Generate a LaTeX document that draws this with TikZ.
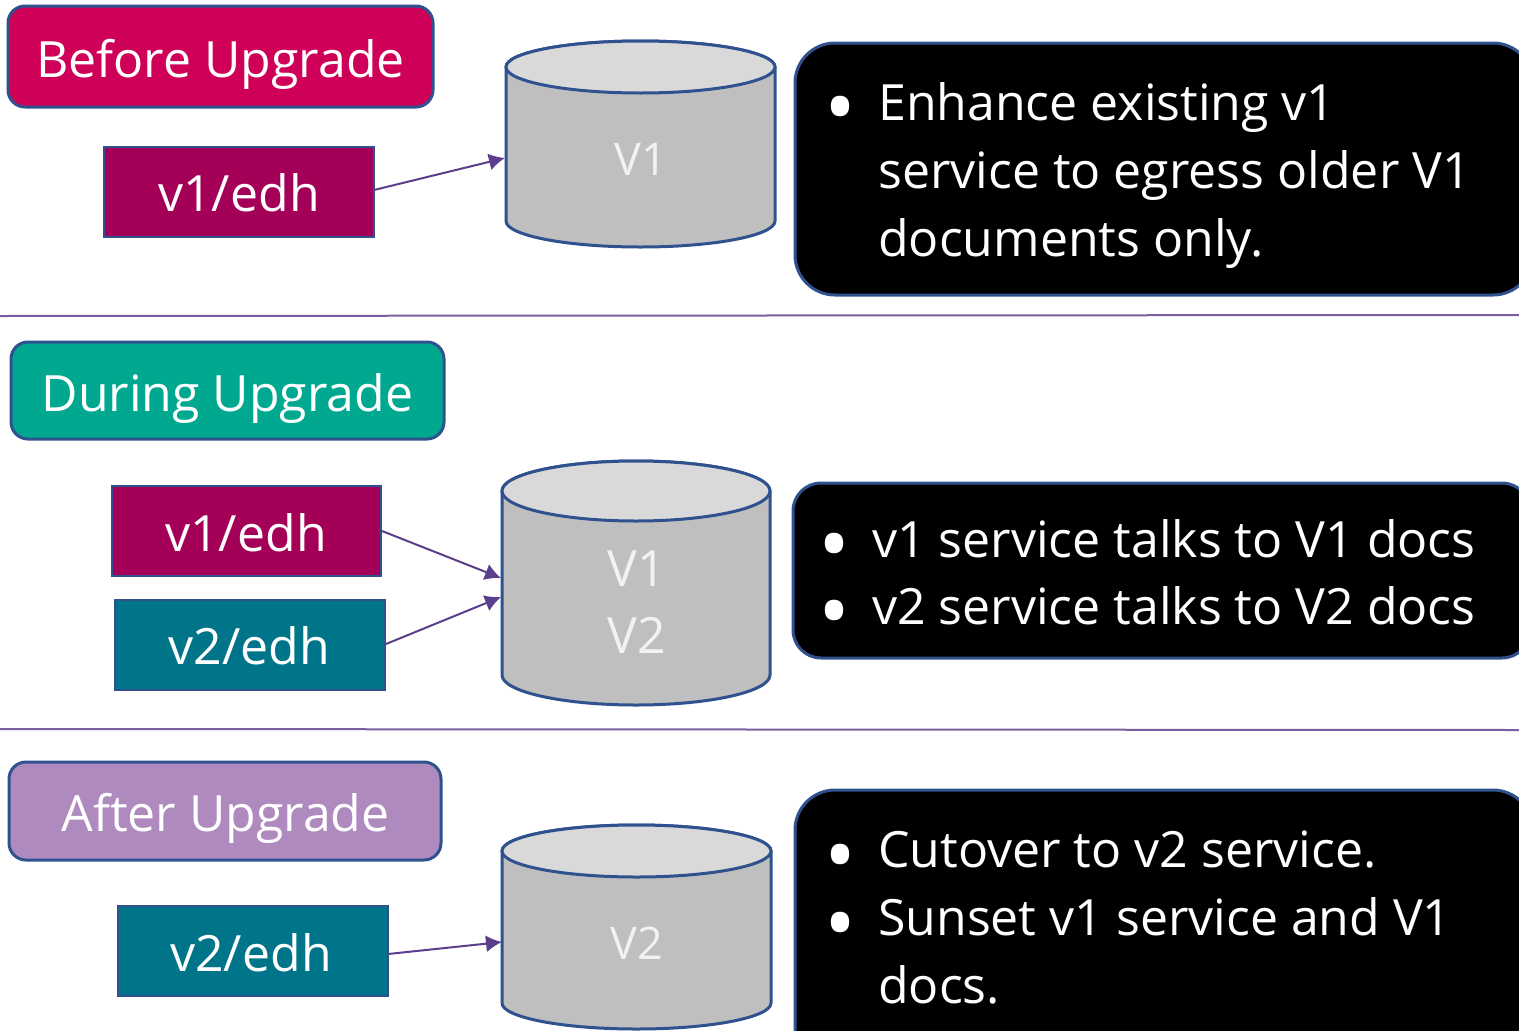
\documentclass[tikz,border=0pt]{standalone}
\usepackage{fontspec}
\setmainfont{Open Sans}
\usetikzlibrary{arrows.meta}
\definecolor{edge}{HTML}{2F528F}
\definecolor{crimson}{HTML}{CE0058}
\definecolor{berry}{HTML}{A50057}
\definecolor{jade}{HTML}{00A88F}
\definecolor{teal2}{HTML}{00758A}
\definecolor{lilac}{HTML}{AE8ABE}
\definecolor{cylbody}{HTML}{BFBFBF}
\definecolor{cyltop}{HTML}{D9D9D9}
\definecolor{arrowc}{HTML}{5B3F8C}
\definecolor{rulec}{HTML}{7B5EA0}
\definecolor{cyltext}{HTML}{F2F2F2}
\newcommand{\cylshape}[6]{%
  \path[fill=cylbody,draw=edge,line width=3pt]
    (#1,#3+#5) -- (#1,#4-#5) arc[start angle=180,end angle=0,x radius=#2/2-#1/2,y radius=#5]
    -- (#2,#3+#5) arc[start angle=360,end angle=180,x radius=#2/2-#1/2,y radius=#5] -- cycle;
  \path[fill=cyltop,draw=edge,line width=3pt]
    ({(#1+#2)/2},#3+#5) ellipse[x radius=#2/2-#1/2,y radius=#5];
}
\tikzset{
  x=1pt,y=-1pt,
  lbl/.style={text=white,font=\fontsize{50}{56}\selectfont,inner sep=0pt,text depth=0pt,anchor=base},
  badge/.style={rounded corners=17pt,draw=edge,line width=3pt,fill=#1,text=white},
  service/.style={draw=edge,line width=2.6pt,fill=#1,text=white},
  cyltext/.style={inner sep=0pt,text=cyltext,font=\fontsize{45}{67}\selectfont,align=center},
  cyltextb/.style={inner sep=0pt,text=cyltext,font=\fontsize{50}{67}\selectfont,align=center},
  panel/.style={rounded corners=#1,draw=edge,line width=3pt,fill=black},
  bullets/.style={anchor=north west,inner sep=0pt,text=white,align=left,font=\fontsize{50}{68}\selectfont},
  bulletstight/.style={anchor=north west,inner sep=0pt,text=white,align=left,font=\fontsize{50}{67}\selectfont},
  link/.style={draw=arrowc,line width=2pt,-{Latex[length=16pt,width=17pt]}},
  divider/.style={draw=rulec,line width=2pt},
}
\newcommand{\bul}{\makebox[48pt][l]{\hspace*{-6pt}\smash{\raisebox{-17.5pt}{\fontsize{85}{85}\selectfont •}}}}
\newcommand{\ind}{\hspace*{48pt}}
\begin{document}
\begin{tikzpicture}
\clip (0,0) rectangle (1519,1031);
\fill[white] (0,0) rectangle (1519,1031);
% dividers
\coordinate (d1a) at (0,316); \coordinate (d1b) at (1519,315);
\coordinate (d2a) at (0,729); \coordinate (d2b) at (1519,730);
\draw[divider] (d1a) -- (d1b);
\draw[divider] (d2a) -- (d2b);
% section 1
\path[badge=crimson] (8,6) rectangle (433,107);
\node[lbl] (t1) at (220.5,77) {Before Upgrade};
\path[service=berry] (104,147) rectangle (374,237);
\node[lbl] (s1) at (239,211) {v1/edh};
\coordinate (s1e) at (374,190);
\cylshape{506}{775}{41}{247}{26}{c1}
\node[cyltext] (c1t) at (641,159) {V1};
\coordinate (c1in) at (505,158);
\draw[link] (s1e) -- (c1in);
\path[panel=40pt] (795,43) rectangle (1533,295);
\node[bullets] (p1) at (830,82) {\bul Enhance existing v1\\\ind service to egress older V1\\\ind documents only.};
% section 2
\path[badge=jade] (11,342) rectangle (444,439);
\node[lbl] (t2) at (227.5,411) {During Upgrade};
\path[service=berry] (112,486) rectangle (381,576);
\node[lbl] (s2) at (246,551) {v1/edh};
\path[service=teal2] (115,600) rectangle (385,690);
\node[lbl] (s3) at (249.5,664) {v2/edh};
\coordinate (s2e) at (382,531); \coordinate (s3e) at (386,644);
\cylshape{502}{770}{461}{705}{30}{c2}
\node[cyltextb] (c2t) at (636.5,602) {V1\\V2};
\coordinate (c2a) at (501,578); \coordinate (c2b) at (501,597);
\draw[link] (s2e) -- (c2a);
\draw[link] (s3e) -- (c2b);
\path[panel=28pt] (793,483) rectangle (1530,658);
\node[bulletstight] (p2) at (824,519) {\bul v1 service talks to V1 docs\\\bul v2 service talks to V2 docs};
% section 3
\path[badge=lilac] (9,762) rectangle (441,860);
\node[lbl] (t3) at (225.5,831) {After Upgrade};
\path[service=teal2] (118,906) rectangle (388,996);
\node[lbl] (s4) at (251,971) {v2/edh};
\coordinate (s4e) at (388,954);
\cylshape{502}{771}{825}{1029}{26}{c3}
\node[cyltext] (c3t) at (636.5,943) {V2};
\coordinate (c3in) at (502,942);
\draw[link] (s4e) -- (c3in);
\path[panel=40pt] (795,790) rectangle (1533,1080);
\node[bullets] (p3) at (830,831) {\bul Cutover to v2 service.\\\bul Sunset v1 service and V1\\\ind docs.};
\end{tikzpicture}
\end{document}
